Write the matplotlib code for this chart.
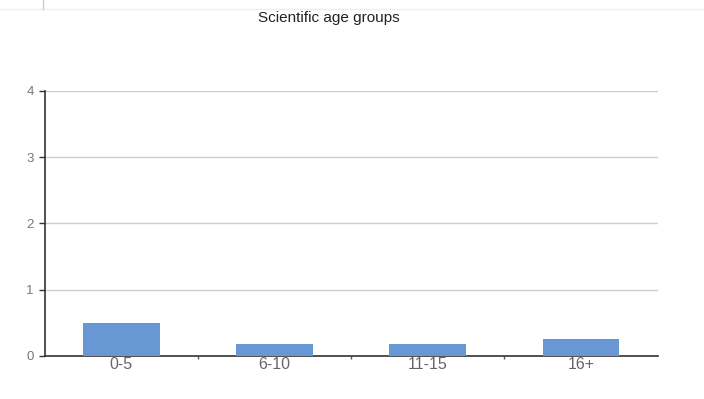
import matplotlib.pyplot as plt
from matplotlib.lines import Line2D
import numpy as np

plt.rcParams['font.family'] = ['Liberation Sans', 'DejaVu Sans']

# data
groups = ['0-5', '6-10', '11-15', '16+']
values = [0.49, 0.17, 0.17, 0.25]
yticks = [0, 1, 2, 3, 4]

fig = plt.figure(figsize=(7.04, 3.99), dpi=100)
ax = fig.add_axes([0.0635, 0.1085, 0.8705, 0.6635])

x = np.arange(len(groups))
ax.bar(x, values, width=0.5, color='#6898d4', zorder=3)

ax.set_xlim(-0.5, len(groups) - 0.5)
ax.set_ylim(0, 4)
ax.set_yticks(yticks)
ax.set_xticks(x)
ax.set_xticklabels(groups)
ax.set_xticks(x[:-1] + 0.5, minor=True)

ax.grid(axis='y', color='#cccccc', linewidth=1, zorder=0)
for s in ['top', 'right']:
    ax.spines[s].set_visible(False)
ax.spines['left'].set_color('#333333')
ax.spines['bottom'].set_color('#333333')
ax.spines['left'].set_linewidth(1.2)
ax.spines['bottom'].set_linewidth(1.2)

ax.tick_params(axis='y', direction='out', length=4, width=1, color='#333333',
               labelcolor='#777777', labelsize=9.5, pad=4)
ax.tick_params(axis='x', which='major', length=0, labelcolor='#666666',
               labelsize=11.5, pad=1)
ax.tick_params(axis='x', which='minor', direction='out', length=2, width=1,
               color='#555555')

fig.text(329 / 704, 1 - 18 / 399, 'Scientific age groups', ha='center',
         va='center', fontsize=11, color='#222222')

# screenshot edge lines at top
fig.add_artist(Line2D([0, 1], [1 - 8.5 / 399] * 2, color='#eeeeee', lw=1))
fig.add_artist(Line2D([43 / 704] * 2, [1, 1 - 9 / 399], color='#cccccc', lw=1))

fig.savefig('out.png', dpi=100)
